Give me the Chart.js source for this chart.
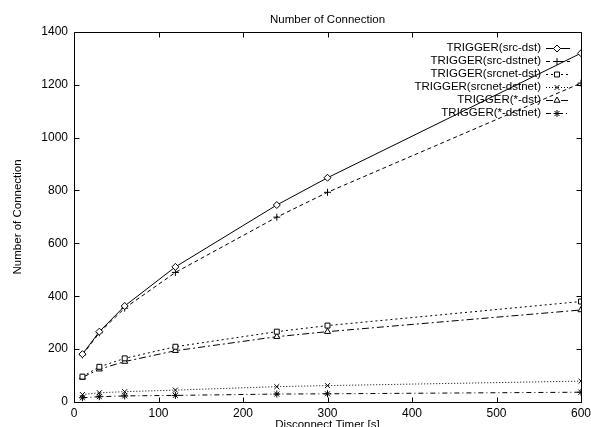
<!DOCTYPE html>
<html>
<head>
<meta charset="utf-8">
<script src="https://cdn.jsdelivr.net/npm/chart.js@4/dist/chart.umd.min.js"></script>
<style>
  html, body { margin: 0; padding: 0; background: #fff; }
  #wrap { width: 591px; height: 427px; }
</style>
</head>
<body>
<div id="wrap"><canvas id="chart" width="591" height="427"></canvas></div>
<script>
// data
const timers = [10, 30, 60, 120, 240, 300, 600];
const srcDst = [181, 266, 363, 511, 745, 848, 1319];
const srcDstnet = [178, 262, 355, 490, 699, 793, 1206];
const srcnetDst = [96, 133, 165, 209, 266, 289, 380];
const srcnetDstnet = [28, 35, 39, 45, 58, 62, 79];
const anyDst = [93, 124, 153, 194, 247, 266, 348];
const anyDstnet = [16, 20, 23, 25, 30, 31, 37];

const seriesLabels = [
    'TRIGGER(src-dst)',
    'TRIGGER(src-dstnet)',
    'TRIGGER(srcnet-dst)',
    'TRIGGER(srcnet-dstnet)',
    'TRIGGER(*-dst)',
    'TRIGGER(*-dstnet)'
];
const xTicks = [0, 100, 200, 300, 400, 500, 600];
const yTicks = [0, 200, 400, 600, 800, 1000, 1200, 1400];

const FONT = '"Liberation Sans", Arial, Helvetica, sans-serif';

const styles = [
    { pointStyle: 'rectRot', dash: [] },
    { pointStyle: 'cross', dash: [4, 3] },
    { pointStyle: 'rect', dash: [2, 3] },
    { pointStyle: 'crossRot', dash: [1, 2] },
    { pointStyle: 'triangle', dash: [7, 3, 2, 3] },
    { pointStyle: 'star', dash: [5, 3, 1, 3] }
];

const values = [srcDst, srcDstnet, srcnetDst, srcnetDstnet, anyDst, anyDstnet];

const datasets = values.map((vals, i) => ({
    label: seriesLabels[i],
    data: timers.map((t, j) => ({ x: t, y: vals[j] })),
    borderColor: '#000',
    backgroundColor: '#fff',
    borderWidth: 1,
    borderDash: styles[i].dash,
    pointStyle: styles[i].pointStyle,
    pointRadius: 3.5,
    pointBorderWidth: 1,
    pointBorderColor: '#000',
    pointBackgroundColor: '#fff',
    tension: 0
}));

// gnuplot style frame with inward ticks on all four sides
const framePlugin = {
    id: 'frame',
    afterDatasetsDraw(chart) {
        const { ctx, chartArea: a, scales } = chart;
        ctx.save();
        ctx.strokeStyle = '#000';
        ctx.lineWidth = 1;
        ctx.setLineDash([]);
        const L = Math.round(a.left) + 0.5, R = Math.round(a.right) + 0.5;
        const T = Math.round(a.top) + 0.5, B = Math.round(a.bottom) + 0.5;
        ctx.beginPath();
        ctx.rect(L, T, R - L, B - T);
        const len = 5;
        xTicks.forEach(v => {
            const x = Math.round(scales.x.getPixelForValue(v)) + 0.5;
            ctx.moveTo(x, B); ctx.lineTo(x, B - len);
            ctx.moveTo(x, T); ctx.lineTo(x, T + len);
        });
        yTicks.forEach(v => {
            const y = Math.round(scales.y.getPixelForValue(v)) + 0.5;
            ctx.moveTo(L, y); ctx.lineTo(L + len, y);
            ctx.moveTo(R, y); ctx.lineTo(R - len, y);
        });
        ctx.stroke();
        ctx.restore();
    }
};

// key in the top right corner: text right-aligned, sample to its right
const keyPlugin = {
    id: 'key',
    afterDraw(chart) {
        const { ctx } = chart;
        ctx.save();
        ctx.font = '11.5px ' + FONT;
        ctx.textAlign = 'right';
        ctx.textBaseline = 'middle';
        chart.data.datasets.forEach((ds, i) => {
            const y = 48 + i * 12.9;
            ctx.fillStyle = '#000';
            ctx.fillText(ds.label, 541, y);
            ctx.strokeStyle = '#000';
            ctx.lineWidth = 1;
            ctx.setLineDash(ds.borderDash);
            ctx.beginPath();
            ctx.moveTo(546, Math.round(y) + 0.5);
            ctx.lineTo(570, Math.round(y) + 0.5);
            ctx.stroke();
            ctx.setLineDash([]);
            ctx.fillStyle = '#fff';
            Chart.helpers.drawPoint(ctx, {
                pointStyle: ds.pointStyle,
                radius: 3.5,
                rotation: 0,
                borderWidth: 1
            }, 557, Math.round(y) + 0.5);
        });
        ctx.restore();
    }
};

const ctx = document.getElementById('chart').getContext('2d');
new Chart(ctx, {
    type: 'line',
    data: { datasets: datasets },
    options: {
        responsive: false,
        animation: false,
        layout: { padding: { left: 0, right: 10, top: 0, bottom: 0 } },
        plugins: {
            legend: { display: false },
            tooltip: { enabled: false },
            title: {
                display: true,
                text: 'Number of Connection',
                fullSize: false,
                color: '#000',
                font: { family: FONT, size: 11.5, weight: 'normal' },
                padding: { top: 13, bottom: 5 }
            }
        },
        scales: {
            x: {
                type: 'linear',
                min: 0,
                max: 600,
                afterBuildTicks: (scale) => { scale.ticks = xTicks.map(v => ({ value: v })); },
                afterFit: (scale) => {
                    scale.height = 25;
                    scale.paddingRight = 0;
                    scale.paddingLeft = 0;
                },
                grid: { display: false, drawTicks: false },
                border: { display: false },
                ticks: {
                    color: '#000',
                    padding: 4,
                    maxRotation: 0,
                    font: { family: FONT, size: 12 },
                    callback: (v) => String(v)
                },
                title: {
                    display: true,
                    text: 'Disconnect Timer [s]',
                    color: '#000',
                    font: { family: FONT, size: 11.5 },
                    padding: { top: 0, bottom: -5 }
                }
            },
            y: {
                type: 'linear',
                min: 0,
                max: 1400,
                afterBuildTicks: (scale) => { scale.ticks = yTicks.map(v => ({ value: v })); },
                afterFit: (scale) => { scale.width = 74; },
                grid: { display: false, drawTicks: false },
                border: { display: false },
                ticks: {
                    color: '#000',
                    padding: 6,
                    font: { family: FONT, size: 12 },
                    callback: (v) => String(v)
                },
                title: {
                    display: true,
                    text: 'Number of Connection',
                    color: '#000',
                    font: { family: FONT, size: 11.5 },
                    padding: { top: 11, bottom: 0 }
                }
            }
        }
    },
    plugins: [framePlugin, keyPlugin]
});
</script>
</body>
</html>
